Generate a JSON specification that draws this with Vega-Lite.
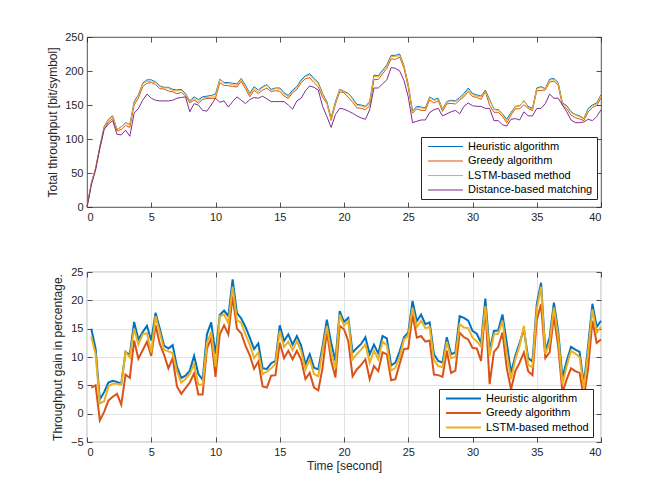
{
  "$schema": "https://vega.github.io/schema/vega-lite/v6.json",
  "padding": {"left": 46, "top": 30, "right": 10, "bottom": 5},
  "datasets": {
    "tp": [
      {"t":0,"H":0,"G":0,"L":0,"D":0},
      {"t":0.3333,"H":35,"G":33.5,"L":34.5,"D":32},
      {"t":0.6667,"H":57,"G":56.2,"L":56.7,"D":54},
      {"t":1,"H":89,"G":86,"L":88.4,"D":87},
      {"t":1.3333,"H":118,"G":114.5,"L":116.5,"D":114},
      {"t":1.6667,"H":129,"G":125,"L":128,"D":122},
      {"t":2,"H":134,"G":130,"L":133,"D":127},
      {"t":2.3333,"H":114,"G":112,"L":114,"D":107},
      {"t":2.6667,"H":118,"G":114,"L":118,"D":106},
      {"t":3,"H":124,"G":120,"L":123.5,"D":113},
      {"t":3.3333,"H":121,"G":117,"L":120.5,"D":104},
      {"t":3.6667,"H":155,"G":150,"L":153,"D":138},
      {"t":4,"H":165,"G":160,"L":164,"D":145},
      {"t":4.3333,"H":182,"G":177,"L":181,"D":157},
      {"t":4.6667,"H":187,"G":182,"L":185,"D":166},
      {"t":5,"H":187,"G":183,"L":184,"D":160},
      {"t":5.3333,"H":184,"G":180,"L":183,"D":157},
      {"t":5.6667,"H":178,"G":174,"L":177,"D":156},
      {"t":6,"H":176,"G":173.5,"L":175,"D":156},
      {"t":6.3333,"H":176,"G":170.5,"L":175,"D":156},
      {"t":6.6667,"H":173,"G":169.5,"L":171,"D":157},
      {"t":7,"H":172,"G":166.5,"L":170.7,"D":160},
      {"t":7.3333,"H":173,"G":168.5,"L":171.7,"D":161},
      {"t":7.6667,"H":167,"G":163.5,"L":166,"D":162},
      {"t":8,"H":156,"G":153,"L":155,"D":140},
      {"t":8.3333,"H":162,"G":157.3,"L":159.7,"D":152},
      {"t":8.6667,"H":158,"G":152.6,"L":155,"D":150},
      {"t":9,"H":162,"G":158.3,"L":160.7,"D":142},
      {"t":9.3333,"H":163,"G":159.5,"L":161,"D":141},
      {"t":9.6667,"H":164,"G":159.8,"L":161.6,"D":150},
      {"t":10,"H":166,"G":159.6,"L":162.5,"D":160},
      {"t":10.3333,"H":188,"G":182.8,"L":187.7,"D":154},
      {"t":10.6667,"H":183,"G":178.9,"L":181.9,"D":156},
      {"t":11,"H":183,"G":178.3,"L":181.2,"D":147},
      {"t":11.3333,"H":182,"G":177.3,"L":180,"D":155},
      {"t":11.6667,"H":181,"G":176.5,"L":178.9,"D":162},
      {"t":12,"H":189,"G":184.9,"L":187.7,"D":157},
      {"t":12.3333,"H":179,"G":174,"L":177,"D":152},
      {"t":12.6667,"H":167,"G":162.1,"L":165.1,"D":158},
      {"t":13,"H":177,"G":171.4,"L":174.4,"D":161},
      {"t":13.3333,"H":172,"G":166.9,"L":169.4,"D":160},
      {"t":13.6667,"H":177,"G":171.9,"L":175.4,"D":163},
      {"t":14,"H":180,"G":174.8,"L":179.2,"D":159},
      {"t":14.3333,"H":173,"G":169.6,"L":171.6,"D":155},
      {"t":14.6667,"H":175,"G":171.1,"L":174.2,"D":155},
      {"t":15,"H":175,"G":170.2,"L":173.4,"D":155},
      {"t":15.3333,"H":168,"G":163.3,"L":166.4,"D":155},
      {"t":15.6667,"H":164,"G":159.6,"L":162,"D":150},
      {"t":16,"H":172,"G":168.3,"L":170.6,"D":144},
      {"t":16.3333,"H":177,"G":172.9,"L":175.6,"D":156},
      {"t":16.6667,"H":187,"G":183,"L":185.4,"D":160},
      {"t":17,"H":193,"G":188.6,"L":191.5,"D":171},
      {"t":17.3333,"H":196,"G":190.1,"L":194.4,"D":178},
      {"t":17.6667,"H":189,"G":182.8,"L":187.1,"D":176},
      {"t":18,"H":183,"G":176.6,"L":180.9,"D":172},
      {"t":18.3333,"H":167,"G":161.4,"L":165.8,"D":148},
      {"t":18.6667,"H":155,"G":152.3,"L":153.5,"D":133},
      {"t":19,"H":131,"G":127.3,"L":129,"D":117},
      {"t":19.3333,"H":155,"G":151.1,"L":153.2,"D":136},
      {"t":19.6667,"H":173,"G":169.2,"L":172.1,"D":145},
      {"t":20,"H":170,"G":168.1,"L":169,"D":144},
      {"t":20.3333,"H":167,"G":161.2,"L":166.3,"D":141},
      {"t":20.6667,"H":160,"G":154.2,"L":158.3,"D":138},
      {"t":21,"H":151,"G":145.9,"L":149.5,"D":134},
      {"t":21.3333,"H":150,"G":145.2,"L":148.7,"D":131},
      {"t":21.6667,"H":148,"G":143,"L":146.3,"D":129},
      {"t":22,"H":155,"G":148.7,"L":152.9,"D":143},
      {"t":22.3333,"H":194,"G":187.3,"L":192.1,"D":175},
      {"t":22.6667,"H":193,"G":187.6,"L":191.2,"D":175},
      {"t":23,"H":201,"G":195.8,"L":199.2,"D":181},
      {"t":23.3333,"H":209,"G":203.8,"L":206.8,"D":187},
      {"t":23.6667,"H":223,"G":217.7,"L":221.2,"D":205},
      {"t":24,"H":223,"G":217.1,"L":221.2,"D":204},
      {"t":24.3333,"H":225,"G":220.6,"L":223,"D":200},
      {"t":24.6667,"H":208,"G":204.1,"L":207.3,"D":186},
      {"t":25,"H":180,"G":175.5,"L":179,"D":162},
      {"t":25.3333,"H":141,"G":138,"L":139.5,"D":124},
      {"t":25.6667,"H":148,"G":144.3,"L":146.7,"D":126},
      {"t":26,"H":147,"G":142.1,"L":145.6,"D":128},
      {"t":26.3333,"H":146,"G":142,"L":145.1,"D":128},
      {"t":26.6667,"H":162,"G":157.6,"L":160.9,"D":139},
      {"t":27,"H":158,"G":152.9,"L":156.6,"D":143},
      {"t":27.3333,"H":160,"G":156.4,"L":158.7,"D":145},
      {"t":27.6667,"H":144,"G":140.6,"L":142.9,"D":134},
      {"t":28,"H":155,"G":151.7,"L":153.9,"D":137},
      {"t":28.3333,"H":157,"G":152.4,"L":156,"D":140},
      {"t":28.6667,"H":156,"G":151.5,"L":154.9,"D":142},
      {"t":29,"H":161,"G":157,"L":159.1,"D":137},
      {"t":29.3333,"H":167,"G":162,"L":164.5,"D":148},
      {"t":29.6667,"H":175,"G":170,"L":173,"D":153},
      {"t":30,"H":167,"G":162.5,"L":165.2,"D":149},
      {"t":30.3333,"H":165,"G":161.2,"L":163.1,"D":148},
      {"t":30.6667,"H":163,"G":158.3,"L":162,"D":148},
      {"t":31,"H":172,"G":169.7,"L":170.1,"D":145},
      {"t":31.3333,"H":158,"G":149.4,"L":156.7,"D":145},
      {"t":31.6667,"H":144,"G":139.3,"L":143.2,"D":127},
      {"t":32,"H":143,"G":139.3,"L":142.2,"D":127},
      {"t":32.3333,"H":137,"G":133.1,"L":135.7,"D":121},
      {"t":32.6667,"H":129,"G":123.6,"L":126.7,"D":119},
      {"t":33,"H":139,"G":135.3,"L":137.6,"D":129},
      {"t":33.3333,"H":148,"G":144.5,"L":147.2,"D":130},
      {"t":33.6667,"H":149,"G":144.5,"L":148.4,"D":128},
      {"t":34,"H":156,"G":150.3,"L":156.8,"D":140},
      {"t":34.3333,"H":148,"G":144.9,"L":146.4,"D":134},
      {"t":34.6667,"H":145,"G":141.8,"L":143.7,"D":134},
      {"t":35,"H":175,"G":170.9,"L":173.7,"D":145},
      {"t":35.3333,"H":177,"G":171.5,"L":176,"D":145},
      {"t":35.6667,"H":174,"G":172,"L":173.1,"D":152},
      {"t":36,"H":188,"G":183.7,"L":186.5,"D":166},
      {"t":36.3333,"H":189,"G":185.2,"L":187.6,"D":160},
      {"t":36.6667,"H":183,"G":178.7,"L":181.6,"D":160},
      {"t":37,"H":153,"G":149,"L":151.2,"D":150},
      {"t":37.3333,"H":149,"G":144.5,"L":147.7,"D":140},
      {"t":37.6667,"H":140,"G":135.1,"L":139.1,"D":128},
      {"t":38,"H":136,"G":131.3,"L":135.1,"D":124},
      {"t":38.3333,"H":134,"G":129.4,"L":132.9,"D":124},
      {"t":38.6667,"H":130,"G":127,"L":129.1,"D":125},
      {"t":39,"H":145,"G":139.8,"L":143.7,"D":129},
      {"t":39.3333,"H":150,"G":146.2,"L":148.7,"D":127},
      {"t":39.6667,"H":153,"G":149.3,"L":151.7,"D":133},
      {"t":40,"H":165,"G":160.3,"L":163.4,"D":143}
    ],
    "gain": [
      {"t":0.3333,"H":15.0,"G":4.6,"L":13.6},
      {"t":0.6667,"H":11.5,"G":5.0,"L":10.5},
      {"t":1,"H":2.5,"G":-1.2,"L":1.8},
      {"t":1.3333,"H":3.8,"G":0.3,"L":2.2},
      {"t":1.6667,"H":5.5,"G":2.3,"L":4.8},
      {"t":2,"H":5.8,"G":3.0,"L":5.3},
      {"t":2.3333,"H":5.6,"G":3.5,"L":5.3},
      {"t":2.6667,"H":5.3,"G":1.6,"L":5.1},
      {"t":3,"H":10.9,"G":6.9,"L":10.9},
      {"t":3.3333,"H":10.4,"G":6.3,"L":9.9},
      {"t":3.6667,"H":16.2,"G":12.9,"L":15.0},
      {"t":4,"H":13.1,"G":9.7,"L":12.2},
      {"t":4.3333,"H":14.4,"G":11.2,"L":14.0},
      {"t":4.6667,"H":15.5,"G":12.7,"L":14.2},
      {"t":5,"H":12.9,"G":10.2,"L":10.8},
      {"t":5.3333,"H":17.8,"G":15.6,"L":17.2},
      {"t":5.6667,"H":15.0,"G":12.3,"L":14.3},
      {"t":6,"H":12.0,"G":10.4,"L":11.3},
      {"t":6.3333,"H":11.5,"G":8.0,"L":11.0},
      {"t":6.6667,"H":12.1,"G":9.8,"L":10.7},
      {"t":7,"H":8.3,"G":4.8,"L":7.5},
      {"t":7.3333,"H":6.3,"G":3.5,"L":5.5},
      {"t":7.6667,"H":6.7,"G":4.5,"L":6.1},
      {"t":8,"H":7.6,"G":5.5,"L":7.0},
      {"t":8.3333,"H":10.2,"G":7.1,"L":8.7},
      {"t":8.6667,"H":7.0,"G":3.4,"L":5.1},
      {"t":9,"H":6.0,"G":3.4,"L":5.1},
      {"t":9.3333,"H":14.0,"G":11.5,"L":12.5},
      {"t":9.6667,"H":16.1,"G":13.3,"L":14.5},
      {"t":10,"H":10.5,"G":6.5,"L":8.3},
      {"t":10.3333,"H":17.4,"G":14.0,"L":17.2},
      {"t":10.6667,"H":18.2,"G":15.6,"L":17.5},
      {"t":11,"H":17.2,"G":14.0,"L":16.0},
      {"t":11.3333,"H":23.7,"G":20.7,"L":22.4},
      {"t":11.6667,"H":17.8,"G":15.0,"L":16.5},
      {"t":12,"H":16.8,"G":14.2,"L":16.0},
      {"t":12.3333,"H":15.3,"G":12.0,"L":14.0},
      {"t":12.6667,"H":13.4,"G":10.3,"L":12.2},
      {"t":13,"H":11.4,"G":7.9,"L":9.8},
      {"t":13.3333,"H":12.4,"G":9.2,"L":10.8},
      {"t":13.6667,"H":8.0,"G":4.8,"L":7.0},
      {"t":14,"H":7.9,"G":4.6,"L":7.4},
      {"t":14.3333,"H":8.9,"G":6.7,"L":8.0},
      {"t":14.6667,"H":9.3,"G":6.8,"L":8.8},
      {"t":15,"H":15.6,"G":12.5,"L":14.6},
      {"t":15.3333,"H":12.8,"G":9.8,"L":11.8},
      {"t":15.6667,"H":14.0,"G":11.1,"L":12.7},
      {"t":16,"H":12.2,"G":9.6,"L":11.2},
      {"t":16.3333,"H":13.7,"G":11.1,"L":12.8},
      {"t":16.6667,"H":12.0,"G":9.5,"L":11.0},
      {"t":17,"H":8.7,"G":6.1,"L":7.8},
      {"t":17.3333,"H":10.5,"G":7.2,"L":9.6},
      {"t":17.6667,"H":8.1,"G":4.6,"L":7.0},
      {"t":18,"H":7.8,"G":4.1,"L":6.6},
      {"t":18.3333,"H":11.9,"G":8.1,"L":11.1},
      {"t":18.6667,"H":16.6,"G":14.6,"L":15.5},
      {"t":19,"H":12.5,"G":9.3,"L":10.8},
      {"t":19.3333,"H":9.3,"G":6.4,"L":8.0},
      {"t":19.6667,"H":18.1,"G":15.5,"L":17.5},
      {"t":20,"H":16.2,"G":14.9,"L":15.5},
      {"t":20.3333,"H":16.9,"G":12.8,"L":16.4},
      {"t":20.6667,"H":10.8,"G":6.6,"L":9.6},
      {"t":21,"H":11.6,"G":7.8,"L":10.5},
      {"t":21.3333,"H":12.3,"G":8.6,"L":11.3},
      {"t":21.6667,"H":13.5,"G":9.6,"L":12.2},
      {"t":22,"H":10.5,"G":6.1,"L":9.0},
      {"t":22.3333,"H":12.2,"G":8.4,"L":11.1},
      {"t":22.6667,"H":10.6,"G":7.5,"L":9.6},
      {"t":23,"H":13.7,"G":10.8,"L":12.7},
      {"t":23.3333,"H":13.3,"G":10.5,"L":12.1},
      {"t":23.6667,"H":8.5,"G":5.9,"L":7.6},
      {"t":24,"H":9.0,"G":6.1,"L":8.1},
      {"t":24.3333,"H":11.0,"G":8.8,"L":10.0},
      {"t":24.6667,"H":13.5,"G":11.4,"L":13.1},
      {"t":25,"H":14.3,"G":11.5,"L":13.7},
      {"t":25.3333,"H":19.9,"G":17.5,"L":18.7},
      {"t":25.6667,"H":16.3,"G":13.4,"L":15.3},
      {"t":26,"H":17.5,"G":13.7,"L":16.4},
      {"t":26.3333,"H":15.8,"G":12.7,"L":15.1},
      {"t":26.6667,"H":16.1,"G":12.9,"L":15.3},
      {"t":27,"H":10.5,"G":6.9,"L":9.5},
      {"t":27.3333,"H":9.3,"G":6.8,"L":8.4},
      {"t":27.6667,"H":9.0,"G":6.5,"L":8.2},
      {"t":28,"H":13.5,"G":11.1,"L":12.7},
      {"t":28.3333,"H":10.5,"G":7.2,"L":9.8},
      {"t":28.6667,"H":10.8,"G":7.6,"L":10.0},
      {"t":29,"H":17.2,"G":14.3,"L":15.8},
      {"t":29.3333,"H":16.9,"G":13.5,"L":15.2},
      {"t":29.6667,"H":16.4,"G":13.1,"L":15.1},
      {"t":30,"H":14.6,"G":11.6,"L":13.4},
      {"t":30.3333,"H":14.1,"G":11.5,"L":12.8},
      {"t":30.6667,"H":12.5,"G":9.3,"L":11.8},
      {"t":31,"H":20.3,"G":18.7,"L":19.0},
      {"t":31.3333,"H":11.1,"G":5.2,"L":10.2},
      {"t":31.6667,"H":14.6,"G":10.9,"L":14.0},
      {"t":32,"H":14.7,"G":11.8,"L":14.1},
      {"t":32.3333,"H":17.5,"G":14.3,"L":16.4},
      {"t":32.6667,"H":12.5,"G":8.0,"L":10.6},
      {"t":33,"H":7.2,"G":4.3,"L":6.1},
      {"t":33.3333,"H":10.2,"G":7.5,"L":9.6},
      {"t":33.6667,"H":12.5,"G":9.0,"L":12.0},
      {"t":34,"H":14.9,"G":10.8,"L":15.5},
      {"t":34.3333,"H":9.8,"G":7.5,"L":8.6},
      {"t":34.6667,"H":9.2,"G":6.8,"L":8.2},
      {"t":35,"H":19.3,"G":16.5,"L":18.4},
      {"t":35.3333,"H":23.1,"G":19.3,"L":22.4},
      {"t":35.6667,"H":11.1,"G":9.8,"L":10.5},
      {"t":36,"H":13.4,"G":10.8,"L":12.5},
      {"t":36.3333,"H":19.6,"G":17.2,"L":18.7},
      {"t":36.6667,"H":14.6,"G":11.9,"L":13.7},
      {"t":37,"H":6.4,"G":3.7,"L":5.2},
      {"t":37.3333,"H":9.3,"G":6.1,"L":8.4},
      {"t":37.6667,"H":11.8,"G":8.0,"L":11.1},
      {"t":38,"H":11.3,"G":7.5,"L":10.6},
      {"t":38.3333,"H":10.9,"G":7.2,"L":10.0},
      {"t":38.6667,"H":5.2,"G":2.8,"L":4.5},
      {"t":39,"H":12.0,"G":8.0,"L":11.0},
      {"t":39.3333,"H":19.4,"G":16.4,"L":18.4},
      {"t":39.6667,"H":15.3,"G":12.5,"L":14.3},
      {"t":40,"H":16.4,"G":13.1,"L":15.3}
    ]
  },
  "spacing": 42,
  "vconcat": [
    {
      "width": 514,
      "height": 170,
      "data": {"name": "tp"},
      "transform": [{"fold": ["H", "G", "L", "D"], "as": ["method", "value"]}],
      "layer": [
        {
          "mark": {"type": "line", "strokeWidth": 1},
          "encoding": {
            "x": {"field": "t", "type": "quantitative", "scale": {"domain": [0, 40], "nice": false},
                  "axis": {"values": [0, 5, 10, 15, 20, 25, 30, 35, 40], "title": null}},
            "y": {"field": "value", "type": "quantitative", "scale": {"domain": [0, 250], "nice": false},
                  "axis": {"values": [0, 50, 100, 150, 200, 250], "title": "Total throughput [bit/symbol]", "titlePadding": 5}},
            "color": {
              "field": "method", "type": "nominal",
              "scale": {"domain": ["H", "G", "L", "D"], "range": ["#0072BD", "#D95319", "#EDB120", "#7E2F8E"]},
              "legend": {"title": null, "orient": "none", "legendX": 334, "legendY": 100, "symbolStrokeWidth": 1,
                         "labelExpr": "datum.label == 'H' ? 'Heuristic algorithm' : datum.label == 'G' ? 'Greedy algorithm' : datum.label == 'L' ? 'LSTM-based method' : 'Distance-based matching'"}
            }
          }
        },
        {
          "mark": {"type": "line", "opacity": 0},
          "encoding": {
            "x": {"field": "t", "type": "quantitative", "axis": {"orient": "top", "values": [0, 5, 10, 15, 20, 25, 30, 35, 40], "labels": false, "title": null}},
            "y": {"field": "value", "type": "quantitative", "axis": {"orient": "right", "values": [0, 50, 100, 150, 200, 250], "labels": false, "title": null}},
            "detail": {"field": "method"}
          }
        }
      ],
      "resolve": {"axis": {"x": "independent", "y": "independent"}}
    },
    {
      "width": 514,
      "height": 170,
      "data": {"name": "gain"},
      "transform": [{"fold": ["H", "G", "L"], "as": ["method", "value"]}],
      "layer": [
        {
          "mark": {"type": "line", "strokeWidth": 2},
          "encoding": {
            "x": {"field": "t", "type": "quantitative", "scale": {"domain": [0, 40], "nice": false},
                  "axis": {"values": [0, 5, 10, 15, 20, 25, 30, 35, 40], "title": "Time [second]", "titlePadding": 3, "grid": true}},
            "y": {"field": "value", "type": "quantitative", "scale": {"domain": [-5, 25], "nice": false},
                  "axis": {"values": [-5, 0, 5, 10, 15, 20, 25], "title": "Throughput gain in percentage.", "titlePadding": 6, "grid": true}},
            "color": {
              "field": "method", "type": "nominal",
              "scale": {"domain": ["H", "G", "L"], "range": ["#0072BD", "#D95319", "#EDB120"]},
              "legend": {"title": null, "orient": "none", "legendX": 352, "legendY": 117, "symbolStrokeWidth": 2,
                         "labelExpr": "datum.label == 'H' ? 'Heuristic algorithm' : datum.label == 'G' ? 'Greedy algorithm' : 'LSTM-based method'"}
            }
          }
        },
        {
          "mark": {"type": "line", "opacity": 0},
          "encoding": {
            "x": {"field": "t", "type": "quantitative", "axis": {"orient": "top", "values": [0, 5, 10, 15, 20, 25, 30, 35, 40], "labels": false, "title": null}},
            "y": {"field": "value", "type": "quantitative", "axis": {"orient": "right", "values": [-5, 0, 5, 10, 15, 20, 25], "labels": false, "title": null}},
            "detail": {"field": "method"}
          }
        }
      ],
      "resolve": {"axis": {"x": "independent", "y": "independent"}}
    }
  ],
  "resolve": {"scale": {"color": "independent"}, "legend": {"color": "independent"}},
  "config": {
    "font": "Liberation Sans",
    "view": {"stroke": "#262626", "strokeWidth": 0.8},
    "axis": {
      "labelFont": "Liberation Sans", "labelFontSize": 11, "labelColor": "#262626",
      "titleFont": "Liberation Sans", "titleFontSize": 12, "titleFontWeight": "normal", "titleColor": "#262626",
      "tickColor": "#262626", "tickSize": -5, "tickWidth": 0.8, "labelPadding": 9,
      "domain": false, "grid": false, "gridColor": "#e3e3e3", "gridWidth": 1
    },
    "legend": {
      "labelFont": "Liberation Sans", "labelFontSize": 11, "labelColor": "#000000",
      "symbolType": "M-1,0H13", "symbolSize": 25, "labelOffset": 32,
      "strokeColor": "#262626", "fillColor": "white", "padding": 4, "rowPadding": 2.5, "cornerRadius": 0
    }
  }
}
